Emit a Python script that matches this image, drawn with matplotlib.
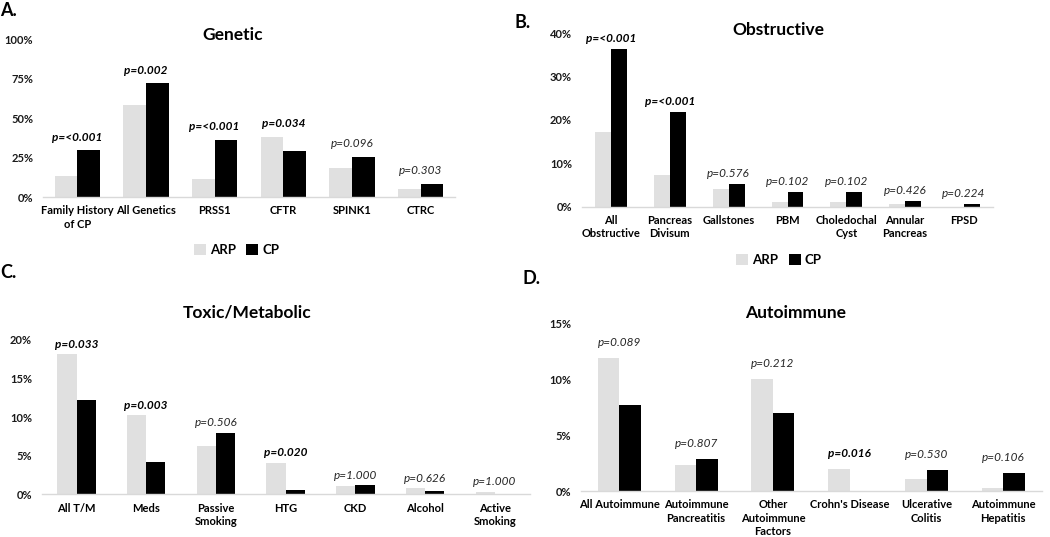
import matplotlib
matplotlib.use("Agg")
import matplotlib.pyplot as plt
from matplotlib.ticker import PercentFormatter

plt.rcParams['font.family'] = ['Lato', 'DejaVu Sans']

# ============ DATA ============
genetic_cats = ['Family History\nof CP', 'All Genetics', 'PRSS1', 'CFTR', 'SPINK1', 'CTRC']
genetic_arp = [13.3, 58.7, 11.4, 38.0, 18.6, 5.1]
genetic_cp = [29.7, 72.2, 36.5, 28.9, 25.5, 8.4]
genetic_p = ['p=<0.001', 'p=0.002', 'p=<0.001', 'p=0.034', 'p=0.096', 'p=0.303']

obstr_cats = ['All\nObstructive', 'Pancreas\nDivisum', 'Gallstones', 'PBM',
              'Choledochal\nCyst', 'Annular\nPancreas', 'FPSD']
obstr_arp = [17.3, 7.3, 4.0, 1.1, 1.1, 0.6, 0.0]
obstr_cp = [36.3, 21.9, 5.3, 3.3, 3.3, 1.4, 0.7]
obstr_p = ['p=<0.001', 'p=<0.001', 'p=0.576', 'p=0.102', 'p=0.102', 'p=0.426', 'p=0.224']

toxic_cats = ['All T/M', 'Meds', 'Passive\nSmoking', 'HTG', 'CKD', 'Alcohol', 'Active\nSmoking']
toxic_arp = [18.2, 10.3, 6.25, 4.1, 1.1, 0.78, 0.35]
toxic_cp = [12.2, 4.2, 8.0, 0.56, 1.2, 0.39, 0.0]
toxic_p = ['p=0.033', 'p=0.003', 'p=0.506', 'p=0.020', 'p=1.000', 'p=0.626', 'p=1.000']

auto_cats = ['All Autoimmune', 'Autoimmune\nPancreatitis', 'Other\nAutoimmune\nFactors',
             "Crohn's Disease", 'Ulcerative\nColitis', 'Autoimmune\nHepatitis']
auto_arp = [11.9, 2.3, 10.0, 2.0, 1.07, 0.27]
auto_cp = [7.7, 2.9, 7.0, 0.0, 1.9, 1.6]
auto_p = ['p=0.089', 'p=0.807', 'p=0.212', 'p=0.016', 'p=0.530', 'p=0.106']

ARP_COLOR = '#e0e0e0'
CP_COLOR = '#000000'
W, H = 1050, 537


def rect(x0, x1, y_base, y_top):
    # pixel coords -> figure fraction
    return [x0 / W, 1 - y_base / H, (x1 - x0) / W, (y_base - y_top) / H]


def draw_panel(fig, box, cats, arp, cp, pvals, ymax, yticks, width, p_off):
    ax = fig.add_axes(box)
    xs = list(range(len(cats)))
    b1 = ax.bar([x - width / 2 for x in xs], arp, width, color=ARP_COLOR, label='ARP')
    b2 = ax.bar([x + width / 2 for x in xs], cp, width, color=CP_COLOR, label='CP')
    ax.set_xlim(-0.5, len(cats) - 0.5)
    ax.set_ylim(0, ymax)
    ax.set_yticks(yticks)
    ax.yaxis.set_major_formatter(PercentFormatter(decimals=0))
    ax.set_xticks(xs)
    ax.set_xticklabels(cats, fontsize=8, fontweight='bold', linespacing=1.25)
    for lab in ax.get_yticklabels():
        lab.set_fontsize(8)
        lab.set_fontweight('bold')
        lab.set_color('#1a1a1a')
    ax.tick_params(axis='both', length=0)
    ax.tick_params(axis='y', pad=7)
    ax.tick_params(axis='x', pad=6)
    for s in ['top', 'right', 'left']:
        ax.spines[s].set_visible(False)
    ax.spines['bottom'].set_color('#d9d9d9')
    ax.spines['bottom'].set_linewidth(1)
    for i, p in enumerate(pvals):
        val = float(p.split('=')[1].replace('<', ''))
        sig = val < 0.05
        ax.annotate(p, xy=(i, max(arp[i], cp[i])), xytext=(0, p_off),
                    textcoords='offset points', ha='center', va='center',
                    fontsize=8.5, style='italic',
                    fontweight='bold' if sig else 'normal',
                    color='#000000' if sig else '#262626')
    return ax, (b1, b2)


fig = plt.figure(figsize=(10.5, 5.37), dpi=100)

axA, handles = draw_panel(fig, rect(43, 455, 197, 39.5), genetic_cats, genetic_arp,
                          genetic_cp, genetic_p, 100, [0, 25, 50, 75, 100], 0.33, 9.5)
axB, _ = draw_panel(fig, rect(581.7, 993.3, 206.7, 33), obstr_cats, obstr_arp,
                    obstr_cp, obstr_p, 40, [0, 10, 20, 30, 40], 0.27, 7.5)
axC, _ = draw_panel(fig, rect(41.7, 529.6, 494.3, 340), toxic_cats, toxic_arp,
                    toxic_cp, toxic_p, 20, [0, 5, 10, 15, 20], 0.275, 7)
axD, _ = draw_panel(fig, rect(581, 1041.7, 491, 323.3), auto_cats, auto_arp,
                    auto_cp, auto_p, 15, [0, 5, 10, 15], 0.28, 11)

# titles
fig.text(233 / W, 1 - 35 / H, 'Genetic', ha='center', va='center', fontsize=12.5, fontweight='bold')
fig.text(778 / W, 1 - 30 / H, 'Obstructive', ha='center', va='center', fontsize=12.5, fontweight='bold')
fig.text(247 / W, 1 - 313 / H, 'Toxic/Metabolic', ha='center', va='center', fontsize=12.5, fontweight='bold')
fig.text(796 / W, 1 - 313 / H, 'Autoimmune', ha='center', va='center', fontsize=12.5, fontweight='bold')

# panel letters
for lbl, x, y in [('A.', 0, 10), ('B.', 515, 22), ('C.', 0, 273), ('D.', 522, 279)]:
    fig.text(x / W, 1 - y / H, lbl, ha='left', va='center', fontsize=13, fontweight='bold')

# legends
for cx, cy in [(236.5, 250), (779, 260)]:
    fig.legend(handles, ['ARP', 'CP'], loc='center', bbox_to_anchor=(cx / W, 1 - cy / H),
               ncol=2, frameon=False, handlelength=0.9, handleheight=0.9,
               handletextpad=0.3, columnspacing=0.8,
               prop={'weight': 'bold', 'size': 9.5})

fig.savefig('out.png', dpi=100)
